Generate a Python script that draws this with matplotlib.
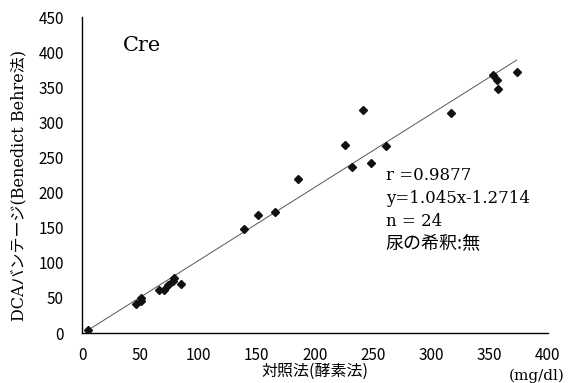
import matplotlib
matplotlib.use("Agg")
import matplotlib.pyplot as plt
import numpy as np

# Creatinine: control method (enzymatic) vs DCA Vantage (Benedict-Behre)
enzyme = [5, 46, 51, 51, 66, 70, 74, 78, 79, 85,
          139, 151, 166, 185, 226, 232, 241, 248, 261, 317,
          353, 356, 357, 373]
dca = [5, 42, 50, 45, 61, 61, 69, 74, 78, 70,
       148, 168, 173, 219, 268, 237, 317, 242, 267, 314,
       368, 360, 347, 371]

slope = 1.045
intercept = -1.2714
r_value = 0.9877
x_ticks = [0, 50, 100, 150, 200, 250, 300, 350, 400]
y_ticks = [0, 50, 100, 150, 200, 250, 300, 350, 400, 450]

serif = ["DejaVu Serif", "Noto Sans CJK JP"]
sans = ["Noto Sans CJK JP", "DejaVu Sans"]

fig = plt.figure(figsize=(5.74, 3.83), dpi=100)
ax = fig.add_axes([0.1429, 0.1305, 0.8118, 0.8251])

xs = np.array([min(enzyme), max(enzyme)])
ax.plot(xs, slope * xs + intercept, color="#555555", lw=0.7, zorder=2)
ax.plot(enzyme, dca, linestyle="none", marker="D", markersize=4.3,
        color="#111111", zorder=3)

ax.set_xlim(0, 400)
ax.set_ylim(0, 450)
ax.set_xticks(x_ticks)
ax.set_yticks(y_ticks)
for s in ("top", "right"):
    ax.spines[s].set_visible(False)
for s in ("left", "bottom"):
    ax.spines[s].set_linewidth(1.0)
    ax.spines[s].set_color("#000000")
ax.tick_params(axis="y", length=0, pad=13, labelsize=11)
ax.tick_params(axis="x", length=0, pad=10, labelsize=11)
for lab in ax.get_xticklabels() + ax.get_yticklabels():
    lab.set_family(sans)

ax.set_xlabel("対照法(酵素法)", family=sans, fontsize=11.5, labelpad=-1)
ax.set_ylabel("DCAバンテージ(Benedict Behre法)", family=serif, fontsize=11.5)
ax.yaxis.set_label_coords(-0.117, 0.466)
fig.text(0.983, 0.018, "(mg/dl)", family=serif, fontsize=11, ha="right",
         va="center")

ax.text(0.088, 0.911, "Cre", transform=ax.transAxes, family=serif,
        fontsize=15, ha="left", va="center")

tx = 0.652
ax.text(tx, 0.5, f"r ={r_value}", transform=ax.transAxes, family=serif,
        fontsize=12, va="center")
ax.text(tx, 0.427, f"y={slope}x-{abs(intercept)}", transform=ax.transAxes,
        family=serif, fontsize=12, va="center")
ax.text(tx, 0.354, f"n = {len(enzyme)}", transform=ax.transAxes,
        family=serif, fontsize=12, va="center")
ax.text(tx, 0.283, "尿の希釈:無", transform=ax.transAxes, family=sans,
        fontsize=13, va="center")

fig.savefig("out.png", dpi=100)
